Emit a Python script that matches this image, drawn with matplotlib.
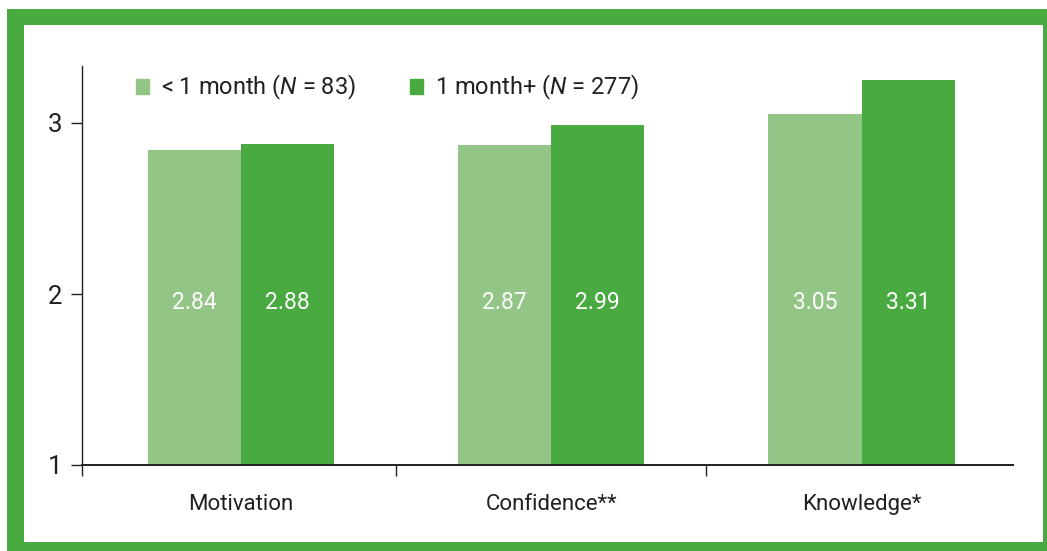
import matplotlib
matplotlib.use('Agg')
import matplotlib.pyplot as plt
from matplotlib.patches import Rectangle, Patch
import numpy as np

categories = ['Motivation', 'Confidence**', 'Knowledge*']
series_names = ['< 1 month ($N$ = 83)', '1 month+ ($N$ = 277)']
short_values = [2.84, 2.87, 3.05]
long_values = [2.88, 2.99, 3.25]
short_labels = ['2.84', '2.87', '3.05']
long_labels = ['2.88', '2.99', '3.31']
y_ticks = [1, 2, 3]

LIGHT = '#93c586'
DARK = '#4aaa42'
INK = '#231f20'

plt.rcParams['font.family'] = ['Roboto', 'DejaVu Sans']
plt.rcParams['mathtext.fontset'] = 'custom'
plt.rcParams['mathtext.it'] = 'Roboto:italic'
plt.rcParams['mathtext.rm'] = 'Roboto'

W, H = 1047, 551
fig = plt.figure(figsize=(W / 100, H / 100), dpi=100)

# green frame (drawn beneath the axes)
fig.patches.append(Rectangle((7 / W, 0), 1.1, 1 - 9 / H, transform=fig.transFigure,
                             facecolor=DARK, edgecolor='none', zorder=-2))
fig.patches.append(Rectangle((24 / W, 1 - 542 / H), (1043 - 24) / W, (542 - 25) / H,
                             transform=fig.transFigure, facecolor='white',
                             edgecolor='none', zorder=-1))

ax = fig.add_axes([82 / W, 1 - 465 / H, (1013 - 82) / W, (465 - 66) / H])
ax.patch.set_alpha(0)

x = np.arange(len(categories))
w = 0.3
ax.bar(x - w / 2, short_values, w, color=LIGHT, zorder=2)
ax.bar(x + w / 2, long_values, w, color=DARK, zorder=2)

for i in range(len(categories)):
    ax.text(x[i] - w / 2, 1.95, short_labels[i], ha='center', va='center',
            color='white', fontsize=16.5, zorder=3)
    ax.text(x[i] + w / 2, 1.95, long_labels[i], ha='center', va='center',
            color='white', fontsize=16.5, zorder=3)

x0, x1 = -0.512, 2.488
ax.set_ylim(1, 1 + (465 - 66) / 171)
ax.set_xlim(x0, x1)
ax.set_yticks(y_ticks)
ax.set_yticklabels([str(t) for t in y_ticks], fontsize=18.5, color=INK)
ax.tick_params(axis='y', direction='out', length=8, width=1, color=INK, pad=6)

ax.set_xticks(x)
ax.set_xticklabels(categories, fontsize=16, color=INK)
ax.tick_params(axis='x', length=0, pad=21)
ax.set_xticks([x0, 0.5, 1.5], minor=True)
ax.tick_params(axis='x', which='minor', direction='out', length=8, width=1, color=INK)

for s in ['top', 'right']:
    ax.spines[s].set_visible(False)
ax.spines['left'].set_color(INK)
ax.spines['bottom'].set_color(INK)
ax.spines['left'].set_linewidth(1)
ax.spines['bottom'].set_linewidth(1.4)

handles = [Patch(color=LIGHT), Patch(color=DARK)]
ax.legend(handles, series_names, ncol=2, loc='upper left', frameon=False,
          bbox_to_anchor=(33 / (1013 - 82), 1.035), fontsize=17,
          handlelength=0.55, handleheight=0.65, handletextpad=0.5,
          columnspacing=2.3, labelcolor=INK)

plt.savefig('out.png', dpi=100)
